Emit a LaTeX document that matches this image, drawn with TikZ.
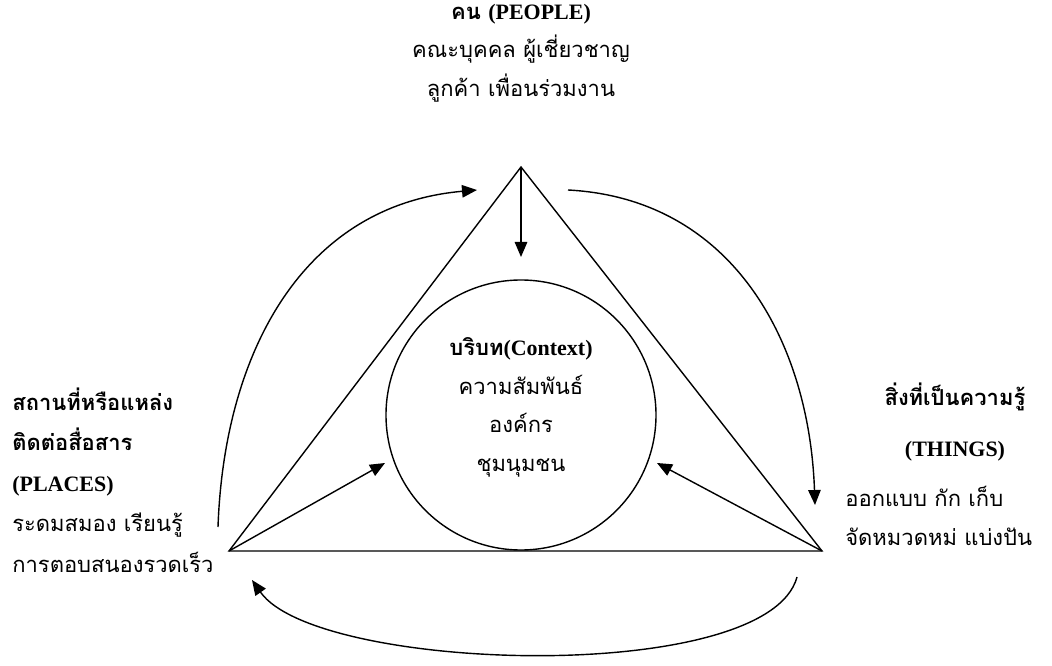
\documentclass[tikz,border=0pt]{standalone}
\usepackage{fontspec}
\setmainfont{Liberation Serif}
\newfontfamily\thai[Script=Thai]{Loma}
\usetikzlibrary{arrows.meta}
\tikzset{
  line/.style={line width=0.8pt},
  arr/.style={line width=0.8pt, -{Triangle[length=0.3cm, width=0.25cm]}},
  txt/.style={inner sep=0pt, font=\thai\fontsize{12.5}{22}\selectfont}
}
\begin{document}
\begin{tikzpicture}
	\useasboundingbox (0, 0) rectangle (21.04, 13.30);
	% Triangle
	\coordinate (top) at (10.42, 9.96);
	\coordinate (left) at (4.58, 2.28);
	\coordinate (right) at (16.44, 2.28);
	\draw[line, line join=miter] (top) -- (left) -- (right) -- cycle;
	
	% Context circle
	\node[draw, line, circle, minimum size=5.4cm] (ctx) at (10.42, 5.00) {};
	\node[txt, align=center] (ctxtext) at (10.42, 5.15)
		{\textbf{บริบท\textrm{(Context)}}\\ความสัมพันธ์\\องค์กร\\ชุมนุมชน};
	
	% Arrows into the circle
	\coordinate (toptip) at (10.42, 8.16);
	\coordinate (lefttip) at (7.70, 4.04);
	\coordinate (righttip) at (13.14, 4.04);
	\draw[arr] (top) -- (toptip);
	\draw[arr] (left) -- (lefttip);
	\draw[arr] (right) -- (righttip);
	
	% Arcs round the triangle
	\coordinate (la0) at (4.36, 2.76);
	\coordinate (la1) at (9.54, 9.50);
	\coordinate (ra0) at (11.36, 9.50);
	\coordinate (ra1) at (16.30, 3.20);
	\coordinate (ba0) at (15.94, 1.76);
	\coordinate (ba1) at (5.04, 1.70);
	\draw[arr] (la0) to[out=88, in=185, looseness=1.05] (la1);
	\draw[arr] (ra0) to[out=-3, in=92, looseness=1.05] (ra1);
	\draw[arr] (ba0) to[out=-105, in=-55, looseness=0.53] (ba1);
	
	% People
	\node[txt, align=center] (people) at (10.42, 12.24)
		{\textbf{คน \textrm{(PEOPLE)}}\\คณะบุคคล ผู้เชี่ยวชาญ\\ลูกค้า เพื่อนร่วมงาน};
	
	% Places
	\node[txt, align=left, anchor=west, font=\thai\fontsize{12.5}{23}\selectfont] (places) at (0.24, 3.70)
		{\textbf{สถานที่หรือแหล่ง}\\\textbf{ติดต่อสื่อสาร}\\\textbf{\textrm{(PLACES)}}\\ระดมสมอง เรียนรู้\\การตอบสนองรวดเร็ว};
	
	% Things
	\node[txt, align=center] (things) at (19.10, 4.86)
		{\textbf{สิ่งที่เป็นความรู้}\\[7pt]\textbf{\textrm{(THINGS)}}};
	\node[txt, align=left, anchor=west] (thingsbody) at (16.90, 2.98)
		{ออกแบบ กัก เก็บ\\จัดหมวดหม่ แบ่งปัน};
\end{tikzpicture}
\end{document}
